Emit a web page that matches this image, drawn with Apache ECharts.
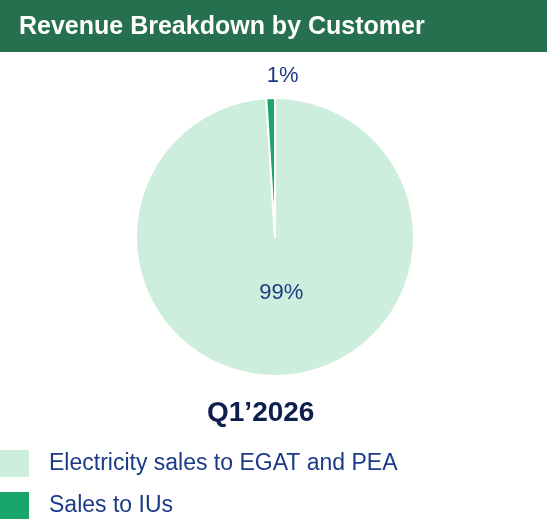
<!DOCTYPE html>
<html>
<head>
<meta charset="utf-8">
<script src="https://cdn.jsdelivr.net/npm/echarts@6/dist/echarts.min.js"></script>
<style>
  html, body { margin: 0; padding: 0; background: #fff; }
  #chart { width: 547px; height: 522px; }
</style>
</head>
<body>
<div id="chart"></div>
<script>
var chart = echarts.init(document.getElementById('chart'));

// data
var categories = ['Electricity sales to EGAT and PEA', 'Sales to IUs'];
var shares = [99, 1];
var sliceColors = ['#cdeedd', '#1aa56b'];
var periodLabel = 'Q1\u20192026';

var navy = '#1b3a87';

var pieData = categories.map(function (name, i) {
    var item = { name: name, value: shares[i], itemStyle: { color: sliceColors[i] } };
    if (i === 0) {
        item.label = { position: 'inside', offset: [4, -17] };
    } else {
        item.label = { position: 'outside', offset: [33, -18] };
        item.labelLine = { show: false };
    }
    return item;
});

// one legend per row, stacked
var legends = categories.map(function (name, i) {
    return {
        orient: 'vertical',
        left: -2, top: 448 + i * 42,
        padding: 0,
        itemWidth: 31, itemHeight: 29,
        icon: 'rect',
        selectedMode: false,
        data: [name],
        textStyle: { color: navy, fontSize: 23, fontFamily: 'Liberation Sans', padding: [0, 0, 0, 14] }
    };
});

var option = {
    backgroundColor: '#fff',
    graphic: [{
        type: 'rect',
        left: 0, top: 0, z: -1,
        shape: { width: 547, height: 52 },
        style: { fill: '#267050' }
    }],
    title: [{
        text: 'Revenue Breakdown by Customer',
        left: 14, top: 10,
        textStyle: { color: '#fff', fontSize: 25, fontWeight: 'bold', fontFamily: 'Liberation Sans' }
    }, {
        text: periodLabel,
        left: 202, top: 394,
        textStyle: { color: '#0f1f4d', fontSize: 28, fontWeight: 'bold', fontFamily: 'Liberation Sans' }
    }],
    legend: legends,
    series: [{
        type: 'pie',
        center: [275, 237],
        radius: [0, 139],
        startAngle: 90,
        clockwise: true,
        avoidLabelOverlap: false,
        itemStyle: { borderColor: '#fff', borderWidth: 2 },
        label: {
            show: true,
            formatter: '{c}%',
            color: navy, fontSize: 22, fontFamily: 'Liberation Sans'
        },
        labelLine: { show: false, length: 4, length2: 0 },
        emphasis: { disabled: true },
        data: pieData
    }]
};

chart.setOption(option);
</script>
</body>
</html>
